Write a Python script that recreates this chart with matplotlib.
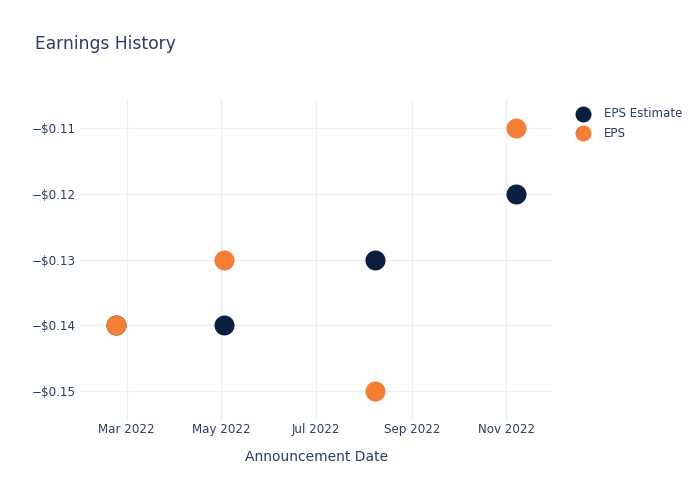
import matplotlib
matplotlib.use("Agg")
import matplotlib.pyplot as plt
import matplotlib.dates as mdates
from matplotlib.ticker import FuncFormatter, FixedLocator
import datetime as dt

dates = ["2022-02-22", "2022-05-03", "2022-08-08", "2022-11-07"]
eps_estimate = [-0.14, -0.14, -0.13, -0.12]
eps_actual = [-0.14, -0.13, -0.15, -0.11]
y_ticks = [-0.15, -0.14, -0.13, -0.12, -0.11]

x = [dt.datetime.strptime(d, "%Y-%m-%d") for d in dates]

plt.rcParams['font.family'] = ['DejaVu Sans']
TXT = '#2a3f5f'
NAVY = '#0b1e40'
ORANGE = '#f47e37'
GRID = '#ebf0f8'

fig = plt.figure(figsize=(7, 5), dpi=100)
ax = fig.add_axes([80/700, 80/500, 473/700, 320/500])

ms = (20 * 0.72) ** 2
ax.scatter(x, eps_estimate, s=ms, color=NAVY, label='EPS Estimate', zorder=3, linewidths=0)
ax.scatter(x, eps_actual, s=ms, color=ORANGE, label='EPS', zorder=4, linewidths=0)

ax.set_xlim(dt.datetime(2022, 1, 30), dt.datetime(2022, 12, 1))
ax.set_ylim(-0.1544, -0.1057)

ax.xaxis.set_major_locator(mdates.MonthLocator(bymonth=[3, 5, 7, 9, 11]))
ax.xaxis.set_major_formatter(mdates.DateFormatter('%b %Y'))
ax.yaxis.set_major_locator(FixedLocator(y_ticks))
ax.yaxis.set_major_formatter(FuncFormatter(lambda v, p: ('\u2212' if v < 0 else '') + '$' + f'{abs(v):.2f}'))

for s in ax.spines.values():
    s.set_visible(False)
ax.grid(True, color=GRID, linewidth=1, zorder=0)
ax.set_axisbelow(True)
ax.tick_params(axis='both', length=0, labelsize=8.6, colors=TXT)
ax.tick_params(axis='x', pad=2)
ax.tick_params(axis='y', pad=3)

ax.set_xlabel('Announcement Date', fontsize=10, color=TXT, labelpad=10)
fig.text(35/700, 1 - 44/500, 'Earnings History', fontsize=12.3, color=TXT, va='center', ha='left')

leg = fig.legend(loc='upper left', bbox_to_anchor=(574/700, 1 - 107/500), frameon=False,
                 fontsize=8.6, markerscale=0.8, handlelength=1.5, handletextpad=1.0,
                 labelspacing=0.55, borderpad=0, borderaxespad=0)
for t in leg.get_texts():
    t.set_color(TXT)

fig.savefig('out.png', dpi=100)
